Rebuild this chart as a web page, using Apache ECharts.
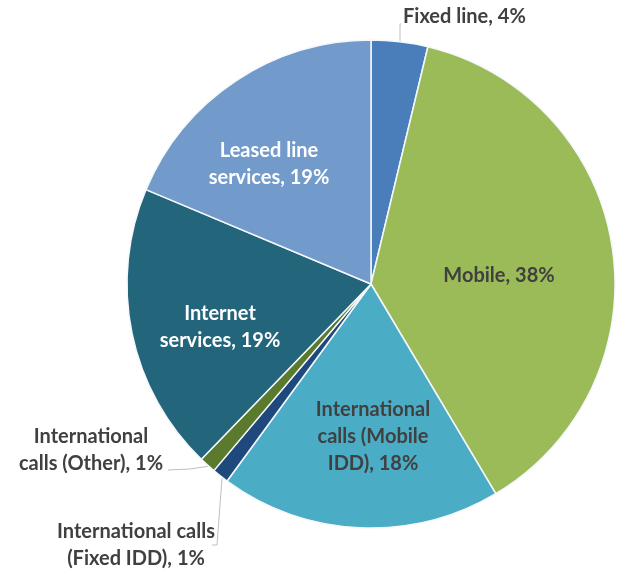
<!DOCTYPE html>
<html>
<head>
<meta charset="utf-8">
<script src="https://cdn.jsdelivr.net/npm/echarts@6/dist/echarts.min.js"></script>
<style>html,body{margin:0;padding:0;background:#fff;}#c{width:625px;height:577px;}</style>
</head>
<body>
<div id="c"></div>
<script>
const categories = ["Fixed line", "Mobile", "International calls (Mobile IDD)", "International calls (Fixed IDD)", "International calls (Other)", "Internet services", "Leased line services"];
const values = [3.75, 37.75, 18.6, 1.1, 1.1, 19.1, 18.7];
const labelPercents = [4, 38, 18, 1, 1, 19, 19];
const labelTexts = ["Fixed line", "Mobile", "International\ncalls (Mobile\nIDD)", "International calls\n(Fixed IDD)", "International\ncalls (Other)", "Internet\nservices", "Leased line\nservices"];
const colors = ["#4a7ebb", "#9bbb59", "#4bacc6", "#1f497d", "#5a7a2e", "#23657a", "#729acb"];
const labelColors = ["#404040", "#404040", "#404040", "#404040", "#404040", "#ffffff", "#ffffff"];
const insideLabel = [false, true, true, false, false, true, true];

const CX = 371, CY = 284, R = 244;

const data = categories.map((name, i) => ({
  name: name,
  value: values[i],
  itemStyle: { color: colors[i] },
  label: {
    position: insideLabel[i] ? 'inside' : 'outside',
    color: labelColors[i],
    overflow: 'none',
    formatter: labelTexts[i] + ', ' + labelPercents[i] + '%'
  },
  labelLine: { show: !insideLabel[i] }
}));

// text placement (label centres)
const labelPlace = {
  0: { x: 403, y: 17, align: 'left', verticalAlign: 'middle', labelLinePoints: [[400, 41], [400, 24], [401, 24]] },
  1: { x: 499, y: 276, align: 'center', verticalAlign: 'middle' },
  2: { x: 373, y: 437, align: 'center', verticalAlign: 'middle' },
  3: { x: 136, y: 545, align: 'center', verticalAlign: 'middle', labelLinePoints: [[222, 478], [217, 545], [212, 545]] },
  4: { x: 91, y: 450, align: 'center', verticalAlign: 'middle', labelLinePoints: [[210, 466], [190, 469], [168, 470]] },
  5: { x: 220, y: 327, align: 'center', verticalAlign: 'middle' },
  6: { x: 269, y: 164, align: 'center', verticalAlign: 'middle' }
};

const chart = echarts.init(document.getElementById('c'), null, { renderer: 'canvas' });
chart.setOption({
  backgroundColor: '#ffffff',
  animation: false,
  series: [{
    type: 'pie',
    center: [CX, CY],
    radius: [0, R],
    startAngle: 90,
    clockwise: true,
    data: data,
    itemStyle: { borderColor: '#f4f8fb', borderWidth: 1.5 },
    label: {
      fontFamily: 'Lato',
      fontWeight: 'bold',
      fontSize: 20,
      lineHeight: 27,
      align: 'center',
      overflow: 'none'
    },
    labelLine: { lineStyle: { color: '#bfbfbf', width: 1 }, smooth: false },
    labelLayout: function (p) {
      return labelPlace[p.dataIndex];
    }
  }]
});
</script>
</body>
</html>
